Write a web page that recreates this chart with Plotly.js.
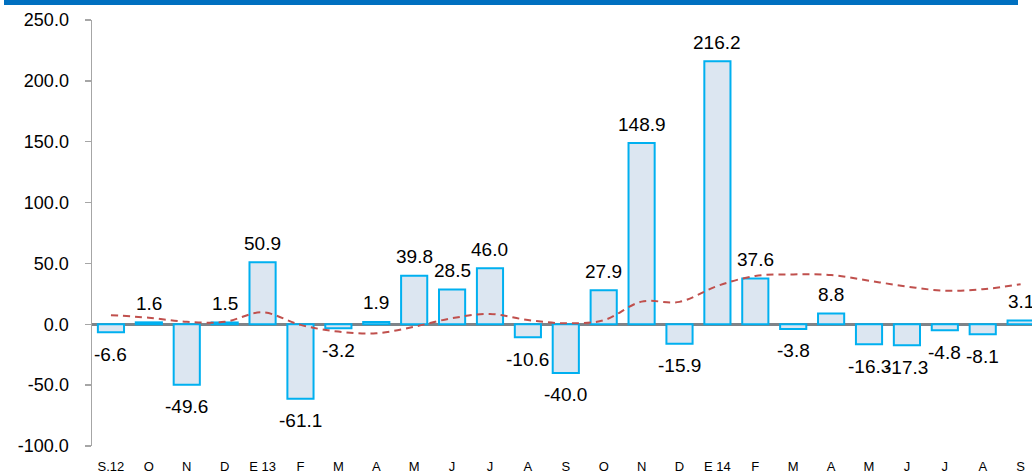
<!DOCTYPE html>
<html>
<head>
<meta charset="utf-8">
<script src="https://cdn.plot.ly/plotly-3.0.1.min.js"></script>
<style>
html,body{margin:0;padding:0;background:#fff;overflow:hidden;}
#band{position:absolute;left:4px;top:0;width:1014px;height:5px;background:#0070C0;z-index:5;}
#chart{position:absolute;left:0;top:0;width:1032px;height:474px;}
</style>
</head>
<body>
<div id="chart"></div>
<div id="band"></div>
<script>
const categories = ['S.12','O','N','D','E 13','F','M','A','M','J','J','A','S','O','N','D','E 14','F','M','A','M','J','J','A','S'];
const barValues = [-6.6, 1.6, -49.6, 1.5, 50.9, -61.1, -3.2, 1.9, 39.8, 28.5, 46.0, -10.6, -40.0, 27.9, 148.9, -15.9, 216.2, 37.6, -3.8, 8.8, -16.3, -17.3, -4.8, -8.1, 3.1];
const trendValues = [7.5, 5.4, 2.0, 2.0, 9.8, -0.5, -6.0, -7.4, -2.0, 5.0, 8.5, 3.5, 0.8, 3.3, 18.6, 18.4, 31.5, 39.7, 41.0, 40.5, 35.8, 31.0, 27.6, 28.8, 32.9];
const yTickVals = [-100, -50, 0, 50, 100, 150, 200, 250];

const idx = categories.map((c, i) => i);

const bars = {
  type: 'bar',
  x: idx,
  y: barValues,
  width: 0.69,
  marker: {color: '#DCE6F1', line: {color: '#00B0F0', width: 2}},
  hoverinfo: 'skip'
};
const trend = {
  type: 'scatter',
  mode: 'lines',
  x: idx,
  y: trendValues,
  line: {color: '#C0504D', width: 2, dash: '7px,5px', shape: 'spline', smoothing: 1},
  hoverinfo: 'skip'
};

const annotations = barValues.map((v, i) => ({
  x: i, y: v, xref: 'x', yref: 'y',
  text: v.toFixed(1),
  showarrow: false,
  yanchor: 'middle',
  yshift: v >= 0 ? 19 : -22,
  font: {family: 'Liberation Sans, Arial, sans-serif', size: 19, color: '#000'}
}));

const layout = {
  width: 1032, height: 474,
  margin: {l: 92, r: 0, t: 20, b: 28, pad: 0},
  paper_bgcolor: '#fff', plot_bgcolor: '#fff',
  showlegend: false,
  font: {family: 'Liberation Sans, Arial, sans-serif', color: '#000'},
  xaxis: {
    range: [-0.5, 24.3],
    tickmode: 'array', tickvals: idx, ticktext: categories,
    showgrid: false, zeroline: false, showline: false,
    ticks: 'outside', ticklen: 8, tickcolor: 'rgba(0,0,0,0)',
    tickfont: {size: 13, color: '#000'}
  },
  yaxis: {
    range: [-100, 250],
    tickmode: 'array', tickvals: yTickVals,
    ticktext: yTickVals.map(v => v.toFixed(1)),
    showgrid: false,
    showline: true, linecolor: '#A6A6A6', linewidth: 1.5,
    ticks: 'outside', ticklen: 6, tickcolor: '#A6A6A6', tickwidth: 1.5,
    ticklabelstandoff: 12,
    zeroline: true, zerolinecolor: '#7F8489', zerolinewidth: 2.5,
    tickfont: {size: 18, color: '#000'}
  },
  annotations: annotations
};

Plotly.newPlot('chart', [bars, trend], layout, {displayModeBar: false, staticPlot: true});
</script>
</body>
</html>
